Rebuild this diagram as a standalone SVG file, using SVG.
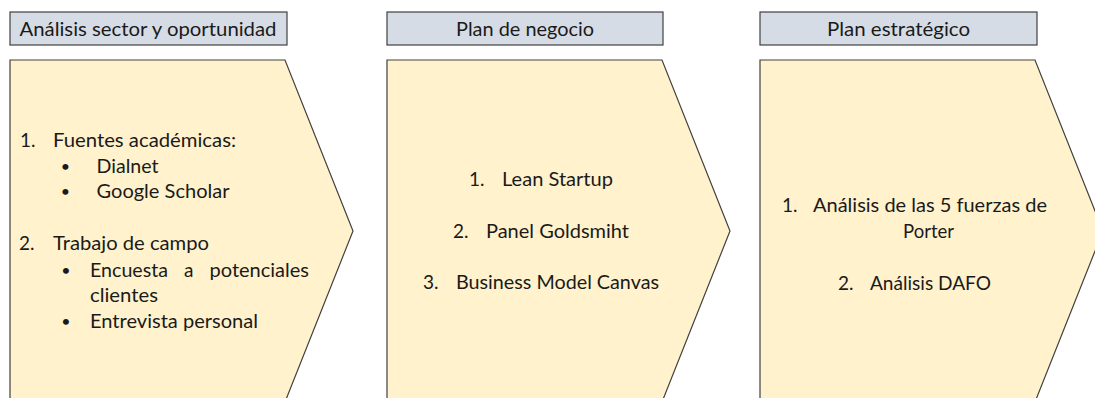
<svg xmlns="http://www.w3.org/2000/svg" width="1095" height="398" viewBox="0 0 1095 398">
<style>
.hdr{fill:#D6DCE5;stroke:#404040;stroke-width:1.2}
.chev{fill:#FFF2CC;stroke:#404040;stroke-width:1.2}
text{font-family:Lato,"Open Sans","Liberation Sans",sans-serif;font-size:19px;fill:#1a1a1a}
.c{text-anchor:middle}
.b{font-size:16px;text-anchor:middle}
</style>
<rect width="1095" height="398" fill="#ffffff"/>
<g id="header1">
<rect class="hdr" x="10" y="12" width="277" height="33"/>
<text class="c" x="148" y="35.5" textLength="257" lengthAdjust="spacingAndGlyphs">Análisis sector y oportunidad</text>
</g>
<g id="header2">
<rect class="hdr" x="387" y="12" width="276" height="33"/>
<text class="c" x="525" y="35.5" textLength="138" lengthAdjust="spacingAndGlyphs">Plan de negocio</text>
</g>
<g id="header3">
<rect class="hdr" x="760" y="12" width="277" height="33"/>
<text class="c" x="898.5" y="35.5" textLength="143" lengthAdjust="spacingAndGlyphs">Plan estratégico</text>
</g>
<g id="step1">
<polygon class="chev" points="10,60 285,60 353,231 285,402 10,402"/>
<text x="20" y="147">1.</text>
<text x="53" y="147" textLength="183" lengthAdjust="spacingAndGlyphs">Fuentes académicas:</text>
<text class="b" x="65.5" y="172">•</text>
<text x="96.5" y="173" textLength="62" lengthAdjust="spacingAndGlyphs">Dialnet</text>
<text class="b" x="65.5" y="196.5">•</text>
<text x="96.5" y="197.5" textLength="133" lengthAdjust="spacingAndGlyphs">Google Scholar</text>
<text x="19" y="250">2.</text>
<text x="53" y="250" textLength="156" lengthAdjust="spacingAndGlyphs">Trabajo de campo</text>
<text class="b" x="66" y="275.5">•</text>
<text x="90" y="276.5" textLength="78" lengthAdjust="spacingAndGlyphs">Encuesta</text>
<text x="184" y="276.5">a</text>
<text x="209.5" y="276.5" textLength="99.5" lengthAdjust="spacingAndGlyphs">potenciales</text>
<text x="90" y="301.5" textLength="68" lengthAdjust="spacingAndGlyphs">clientes</text>
<text class="b" x="66" y="327">•</text>
<text x="90" y="328" textLength="168" lengthAdjust="spacingAndGlyphs">Entrevista personal</text>
</g>
<g id="step2">
<polygon class="chev" points="387,60 662,60 730,231 662,402 387,402"/>
<text x="469" y="186">1.</text>
<text x="502" y="186" textLength="111" lengthAdjust="spacingAndGlyphs">Lean Startup</text>
<text x="453" y="238">2.</text>
<text x="486" y="238" textLength="143" lengthAdjust="spacingAndGlyphs">Panel Goldsmiht</text>
<text x="423" y="289">3.</text>
<text x="456" y="289" textLength="203" lengthAdjust="spacingAndGlyphs">Business Model Canvas</text>
</g>
<g id="step3">
<polygon class="chev" points="760,60 1035,60 1103,231 1035,402 760,402"/>
<text x="782" y="211.5">1.</text>
<text x="813" y="211.5" textLength="234" lengthAdjust="spacingAndGlyphs">Análisis de las 5 fuerzas de</text>
<text x="903" y="238" textLength="51" lengthAdjust="spacingAndGlyphs">Porter</text>
<text x="838" y="290">2.</text>
<text x="870" y="290" textLength="121" lengthAdjust="spacingAndGlyphs">Análisis DAFO</text>
</g>
<g id="connectors"></g>
</svg>
